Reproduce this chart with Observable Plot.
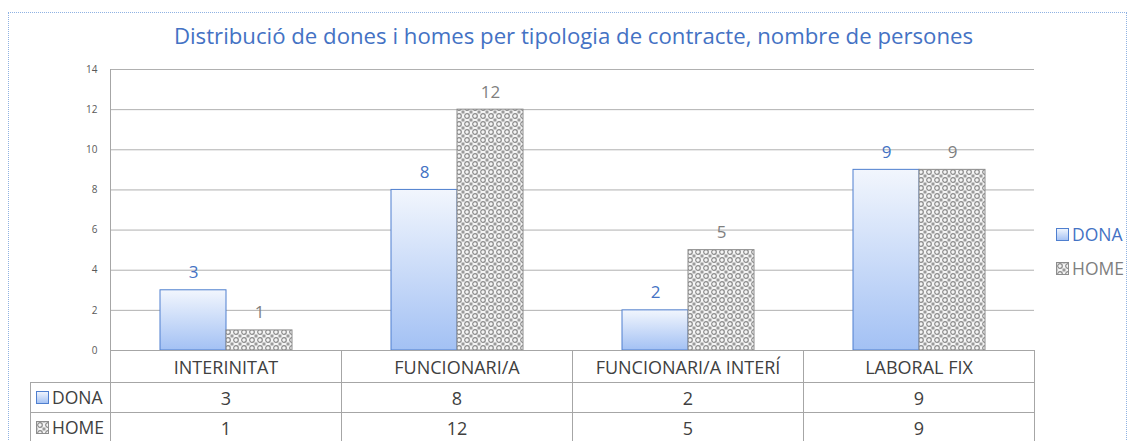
<!DOCTYPE html>
<html>
<head>
<meta charset="utf-8">
<script src="https://cdn.jsdelivr.net/npm/d3@7"></script>
<script src="https://cdn.jsdelivr.net/npm/@observablehq/plot@0.6"></script>
<style>
  html, body { margin: 0; padding: 0; background: #fff; }
  #wrap { position: relative; width: 1129px; height: 441px; overflow: hidden; font-family: "Open Sans", Lato, sans-serif; }
  #frame { position: absolute; left: 8px; top: 12px; width: 1119px; height: 460px; border: 1px dotted #8fb2e3; box-sizing: border-box; }
  #title { position: absolute; left: 0; width: 1147px; top: 20px; text-align: center; color: #4472C4; font-size: 22.2px; white-space: nowrap; }
  #chart { position: absolute; left: 0; top: 0; }
  #legend { position: absolute; left: 1056px; top: 217px; font-size: 17.5px; }
  #legend div { height: 34px; display: flex; align-items: center; }
  #legend svg, #tbl svg { margin-right: 3px; }
  #tbl { position: absolute; left: 30px; top: 350px; border-collapse: collapse; table-layout: fixed; font-size: 18px; color: #404040; }
  #tbl td { border: 1px solid #a6a6a6; padding: 0; text-align: center; white-space: nowrap; line-height: 1; }
  #tbl td.rh { text-align: left; padding-left: 5px; font-size: 17.5px; }
  #tbl td.rh span { display: inline-flex; align-items: center; }
</style>
</head>
<body>
<div id="wrap">
  <div id="frame"></div>
  <div id="title"></div>
  <div id="chart"></div>
  <div id="legend"></div>
  <table id="tbl"></table>
</div>
<script>
const titleText = "Distribució de dones i homes per tipologia de contracte, nombre de persones";
const categories = ["INTERINITAT", "FUNCIONARI/A", "FUNCIONARI/A INTERÍ", "LABORAL FIX"];
const series = ["DONA", "HOME"];
const dona = [3, 8, 2, 9];
const home = [1, 12, 5, 9];
const yTicks = [0, 2, 4, 6, 8, 10, 12, 14];

const seriesValues = {DONA: dona, HOME: home};
const seriesFill = {DONA: "url(#donaGrad)", HOME: "url(#homePat)"};
const seriesStroke = {DONA: "#4f7fcf", HOME: "#8c8c8c"};
const labelColor = {DONA: "#4472C4", HOME: "#7f7f7f"};

const data = categories.flatMap((c, i) => series.map(s => ({cat: c, sex: s, v: seriesValues[s][i]})));

document.getElementById("title").textContent = titleText;

const chart = Plot.plot({
  width: 1129,
  height: 441,
  marginLeft: 110,
  marginRight: 95,
  marginTop: 69,
  marginBottom: 91,
  style: {background: "transparent", fontFamily: "'Open Sans', Lato, sans-serif", overflow: "visible"},
  fx: {domain: categories, padding: 0, axis: null},
  x: {domain: series, paddingInner: 0, paddingOuter: 0.75, axis: null},
  y: {domain: [0, 14], axis: null},
  marks: [
    Plot.gridY(yTicks, {stroke: "#b0b0b0", strokeOpacity: 1}),
    Plot.axisY(yTicks, {tickSize: 0, tickPadding: 13, fontSize: 10, fill: "#595959", label: null}),
    ...series.map(s => Plot.barY(data.filter(d => d.sex === s), {
      fx: "cat", x: "sex", y: "v", fill: seriesFill[s], stroke: seriesStroke[s], strokeWidth: 1, inset: 0
    })),
    ...series.map(s => Plot.text(data.filter(d => d.sex === s), {
      fx: "cat", x: "sex", y: "v", text: d => String(d.v), fill: labelColor[s],
      fontSize: 17, lineAnchor: "bottom", dy: -12
    }))
  ]
});

// defs: gradient and pattern
const defs = d3.select(chart).insert("defs", ":first-child");
const g = defs.append("linearGradient").attr("id", "donaGrad").attr("x1", 0).attr("y1", 0).attr("x2", 0).attr("y2", 1);
g.append("stop").attr("offset", "0%").attr("stop-color", "#f2f6fd");
g.append("stop").attr("offset", "100%").attr("stop-color", "#a3c1f4");
const p = defs.append("pattern").attr("id", "homePat").attr("patternUnits", "userSpaceOnUse").attr("width", 8).attr("height", 8);
p.append("rect").attr("width", 8).attr("height", 8).attr("fill", "#f4f4f4");
p.append("circle").attr("cx", 4).attr("cy", 4).attr("r", 2.3).attr("fill", "none").attr("stroke", "#8a8a8a").attr("stroke-width", 1.2);
p.append("path").attr("d", "M0 0 h1.5 v1.5 h-1.5 Z M6.5 0 h1.5 v1.5 h-1.5 Z M0 6.5 h1.5 v1.5 h-1.5 Z M6.5 6.5 h1.5 v1.5 h-1.5 Z").attr("fill", "#9a9a9a");

// y axis line from the scale
const ys = chart.scale("y");
d3.select(chart).append("line")
  .attr("x1", 110.5).attr("x2", 110.5)
  .attr("y1", ys.apply(14)).attr("y2", 441)
  .attr("stroke", "#a6a6a6");

document.getElementById("chart").appendChild(chart);

function icon(s) {
  return `<svg width="13" height="13" style="display:block"><rect x="0.5" y="0.5" width="12" height="12" fill="${seriesFill[s]}" stroke="${seriesStroke[s]}"/></svg>`;
}

// legend
document.getElementById("legend").innerHTML = series.map(s =>
  `<div style="color:${labelColor[s]}">${icon(s)}<span>${s}</span></div>`).join("");

// table
const colW = (1034 - 110) / categories.length;
let html = `<colgroup><col style="width:80px">${categories.map(() => `<col style="width:${colW}px">`).join("")}</colgroup>`;
html += `<tr style="height:32px"><td style="border:none;border-right:1px solid #a6a6a6"></td>${categories.map(c => `<td>${c}</td>`).join("")}</tr>`;
series.forEach((s, k) => {
  html += `<tr style="height:30px"><td class="rh"><span>${icon(s)}${s}</span></td>${seriesValues[s].map(v => `<td>${v}</td>`).join("")}</tr>`;
});
document.getElementById("tbl").innerHTML = html;
</script>
</body>
</html>
